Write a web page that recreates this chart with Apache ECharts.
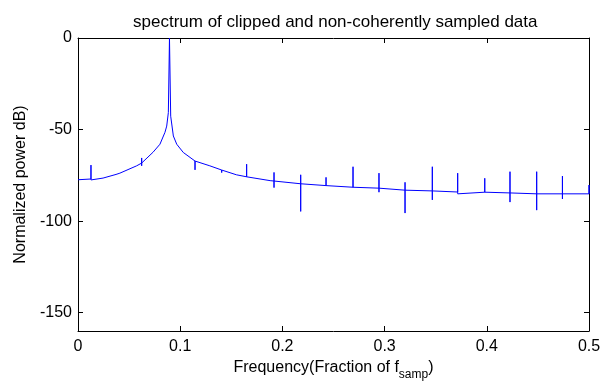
<!DOCTYPE html>
<html>
<head>
<meta charset="utf-8">
<script src="https://cdn.jsdelivr.net/npm/echarts@6/dist/echarts.min.js"></script>
<style>
  html, body { margin: 0; padding: 0; background: #fff; }
  #chart { width: 601px; height: 383px; }
</style>
</head>
<body>
<div id="chart"></div>
<script>
// frequency (fraction of fsamp) and the noise floor level in dB
var freq = [0, 0.0127, 0.0245, 0.0372, 0.041, 0.0574, 0.0623, 0.0734, 0.0802, 0.0851,
  0.0868, 0.0884, 0.0895, 0.0907, 0.0933, 0.0966, 0.103, 0.1145, 0.129, 0.1406,
  0.155, 0.165, 0.188, 0.1918, 0.2179, 0.2427, 0.2691, 0.2945, 0.32, 0.3467,
  0.3715, 0.398, 0.4227, 0.4488, 0.474, 0.5];
var level = [-77.4, -77.0, -76.5, -74.5, -73.8, -69.8, -68.3, -62.4, -58.0, -51.5,
  -48.1, -40.7, 0, -42.7, -53.5, -58.0, -62.5, -67.2, -69.8, -72.1,
  -74.7, -75.8, -77.9, -78.1, -79.6, -80.6, -81.5, -82.0, -83.1, -83.5,
  -84.1, -84.2, -84.6, -85.1, -85.1, -85.1];
// harmonic spurs: top and bottom of each spike (null = no spike there)
var spikeTop = [null, -69.4, null, -73.8, null, null, -65.5, null, null, null,
  null, null, null, null, null, null, null, -66.2, null, -71.3,
  null, -68.9, null, -73.4, -74.7, -76.1, -70.3, -73.8, -78.8, -70.3,
  -73.8, -76.6, -73.0, -73.0, -75.4, -80.3];
var spikeBottom = [null, -77.5, null, -75.5, null, null, -69.8, null, null, null,
  null, null, null, null, null, null, null, -72.0, null, -73.5,
  null, -75.8, null, -81.7, -94.7, -80.6, -81.5, -84.2, -95.6, -88.4,
  -85.1, -84.2, -89.6, -94.0, -87.9, -85.1];
var yTicks = [-150, -100, -50, 0];

var lineData = [];
for (var i = 0; i < freq.length; i++) {
  lineData.push([freq[i], level[i]]);
  if (spikeTop[i] !== null) {
    lineData.push([freq[i], spikeTop[i]]);
    lineData.push([freq[i], spikeBottom[i]]);
    lineData.push([freq[i], level[i]]);
  }
}

var font = 'Liberation Sans, Arial, sans-serif';
var axisLine = { show: true, onZero: false, lineStyle: { color: '#000', width: 1 } };
var tick = { inside: true, length: 5, lineStyle: { color: '#000' } };
var yTick = { inside: true, length: 5, lineStyle: { color: '#000' }, customValues: yTicks };

var chart = echarts.init(document.getElementById('chart'));
chart.setOption({
  animation: false,
  backgroundColor: '#fff',
  title: {
    text: 'spectrum of clipped and non-coherently sampled data',
    left: 128,
    top: 9,
    textStyle: { fontFamily: font, fontSize: 17, fontWeight: 'normal', color: '#000' }
  },
  grid: { left: 78, right: 12, top: 38, bottom: 52, outerBoundsMode: 'none' },
  xAxis: [{
    type: 'value',
    min: 0,
    max: 0.5,
    interval: 0.1,
    axisLine: axisLine,
    axisTick: tick,
    splitLine: { show: false },
    axisLabel: { color: '#000', fontFamily: font, fontSize: 16, margin: 8 },
    name: '{n|Frequency(Fraction of f}{s|samp}{n|)}',
    nameLocation: 'middle',
    nameGap: 23,
    nameTextStyle: {
      rich: {
        n: { fontFamily: font, fontSize: 16, color: '#000' },
        s: { fontFamily: font, fontSize: 12, color: '#000', padding: [14, 0, 0, 0] }
      }
    }
  }, {
    type: 'value',
    position: 'top',
    min: 0,
    max: 0.5,
    interval: 0.1,
    axisLine: axisLine,
    axisTick: tick,
    splitLine: { show: false },
    axisLabel: { show: false }
  }],
  yAxis: [{
    type: 'value',
    min: -160,
    max: 0,
    axisLine: axisLine,
    axisTick: yTick,
    splitLine: { show: false },
    axisLabel: { color: '#000', fontFamily: font, fontSize: 16, margin: 6, customValues: yTicks },
    name: 'Normalized power dB)',
    nameLocation: 'middle',
    nameGap: 46,
    nameTextStyle: { fontFamily: font, fontSize: 16, color: '#000' }
  }, {
    type: 'value',
    position: 'right',
    min: -160,
    max: 0,
    axisLine: axisLine,
    axisTick: yTick,
    splitLine: { show: false },
    axisLabel: { show: false }
  }],
  series: [{
    type: 'line',
    xAxisIndex: 0,
    yAxisIndex: 0,
    data: lineData,
    showSymbol: false,
    lineStyle: { color: '#0000ff', width: 1 }
  }]
});
</script>
</body>
</html>
